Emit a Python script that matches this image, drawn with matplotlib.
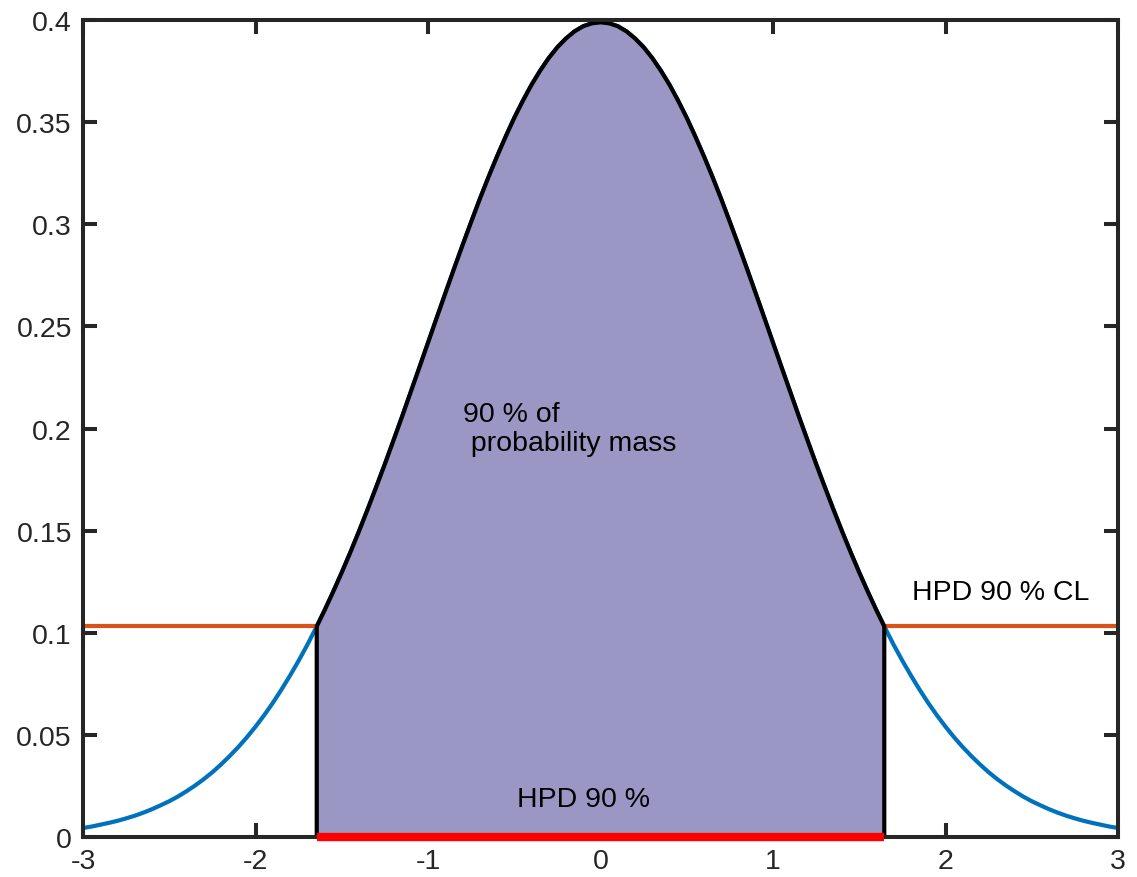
import matplotlib
matplotlib.use("Agg")
import matplotlib.pyplot as plt

plt.rcParams["font.family"] = ["Liberation Sans", "DejaVu Sans"]
plt.rcParams["axes.unicode_minus"] = False

# Density of the posterior sampled along x
x_vals = [-3.00, -2.95, -2.90, -2.85, -2.80, -2.75, -2.70, -2.65, -2.60, -2.55,
          -2.50, -2.45, -2.40, -2.35, -2.30, -2.25, -2.20, -2.15, -2.10, -2.05,
          -2.00, -1.95, -1.90, -1.85, -1.80, -1.75, -1.70, -1.65, -1.645, -1.60,
          -1.55, -1.50, -1.45, -1.40, -1.35, -1.30, -1.25, -1.20, -1.15, -1.10,
          -1.05, -1.00, -0.95, -0.90, -0.85, -0.80, -0.75, -0.70, -0.65, -0.60,
          -0.55, -0.50, -0.45, -0.40, -0.35, -0.30, -0.25, -0.20, -0.15, -0.10,
          -0.05, 0.00, 0.05, 0.10, 0.15, 0.20, 0.25, 0.30, 0.35, 0.40,
          0.45, 0.50, 0.55, 0.60, 0.65, 0.70, 0.75, 0.80, 0.85, 0.90,
          0.95, 1.00, 1.05, 1.10, 1.15, 1.20, 1.25, 1.30, 1.35, 1.40,
          1.45, 1.50, 1.55, 1.60, 1.645, 1.65, 1.70, 1.75, 1.80, 1.85,
          1.90, 1.95, 2.00, 2.05, 2.10, 2.15, 2.20, 2.25, 2.30, 2.35,
          2.40, 2.45, 2.50, 2.55, 2.60, 2.65, 2.70, 2.75, 2.80, 2.85,
          2.90, 2.95, 3.00]
density = [0.0044, 0.0051, 0.0060, 0.0069, 0.0079, 0.0091, 0.0104, 0.0119, 0.0136, 0.0155,
           0.0175, 0.0198, 0.0224, 0.0252, 0.0283, 0.0317, 0.0355, 0.0396, 0.0440, 0.0488,
           0.0540, 0.0596, 0.0656, 0.0721, 0.0790, 0.0863, 0.0940, 0.1023, 0.1031, 0.1109,
           0.1200, 0.1295, 0.1394, 0.1497, 0.1604, 0.1714, 0.1826, 0.1942, 0.2059, 0.2179,
           0.2299, 0.2420, 0.2541, 0.2661, 0.2780, 0.2897, 0.3011, 0.3123, 0.3230, 0.3332,
           0.3429, 0.3521, 0.3605, 0.3683, 0.3752, 0.3814, 0.3867, 0.3910, 0.3945, 0.3970,
           0.3984, 0.3989, 0.3984, 0.3970, 0.3945, 0.3910, 0.3867, 0.3814, 0.3752, 0.3683,
           0.3605, 0.3521, 0.3429, 0.3332, 0.3230, 0.3123, 0.3011, 0.2897, 0.2780, 0.2661,
           0.2541, 0.2420, 0.2299, 0.2179, 0.2059, 0.1942, 0.1826, 0.1714, 0.1604, 0.1497,
           0.1394, 0.1295, 0.1200, 0.1109, 0.1031, 0.1023, 0.0940, 0.0863, 0.0790, 0.0721,
           0.0656, 0.0596, 0.0540, 0.0488, 0.0440, 0.0396, 0.0355, 0.0317, 0.0283, 0.0252,
           0.0224, 0.0198, 0.0175, 0.0155, 0.0136, 0.0119, 0.0104, 0.0091, 0.0079, 0.0069,
           0.0060, 0.0051, 0.0044]

# Highest posterior density interval and its density cut level
hpd_lo = -1.645
hpd_hi = 1.645
hpd_level = 0.1031

x_ticks = [-3, -2, -1, 0, 1, 2, 3]
x_tick_labels = ["-3", "-2", "-1", "0", "1", "2", "3"]
y_ticks = [0, 0.05, 0.1, 0.15, 0.2, 0.25, 0.3, 0.35, 0.4]
y_tick_labels = ["0", "0.05", "0.1", "0.15", "0.2", "0.25", "0.3", "0.35", "0.4"]

fig = plt.figure(figsize=(11.37, 8.78), dpi=100)
ax = fig.add_axes([0.073, 0.0456, 0.9103, 0.9304])

blue = "#0072BD"
orange = "#D95319"
fill_col = "#9b97c5"

# full density curve
ax.plot(x_vals, density, color=blue, lw=3, zorder=2, solid_joinstyle="round")

# shaded HPD region bounded by the curve
inner = [(x, y) for x, y in zip(x_vals, density) if hpd_lo <= x <= hpd_hi]
px = [hpd_lo] + [p[0] for p in inner] + [hpd_hi]
py = [0.0] + [p[1] for p in inner] + [0.0]
ax.fill(px, py, facecolor=fill_col, edgecolor="none", zorder=3)
ax.plot(px, py, color="black", lw=3, zorder=4, solid_joinstyle="miter")

# density cut level outside the interval
ax.plot([x_vals[0], hpd_lo], [hpd_level, hpd_level], color=orange, lw=3, zorder=3)
ax.plot([hpd_hi, x_vals[-1]], [hpd_level, hpd_level], color=orange, lw=3, zorder=3)

# interval on the axis
ax.plot([hpd_lo, hpd_hi], [0, 0], color="#ff0000", lw=6, solid_capstyle="butt",
        zorder=6, clip_on=False)

fs = 20.5
ax.text(-0.80, 0.1998, "90 % of\n probability mass", fontsize=fs, ha="left",
        va="center", linespacing=1.15, zorder=5)
ax.text(2.32, 0.120, "HPD 90 % CL", fontsize=fs, ha="center", va="center", zorder=5)
ax.text(-0.10, 0.0186, "HPD 90 %", fontsize=fs, ha="center", va="center", zorder=5)

ax.set_xlim(-3, 3)
ax.set_ylim(0, 0.4)
ax.set_xticks(x_ticks)
ax.set_xticklabels(x_tick_labels)
ax.set_yticks(y_ticks)
ax.set_yticklabels(y_tick_labels)

spine_col = "#262626"
for s in ax.spines.values():
    s.set_linewidth(2.9)
    s.set_color(spine_col)
    s.set_zorder(5)
ax.tick_params(direction="in", length=10, width=2.9, color=spine_col,
               labelsize=fs, labelcolor="#262626", top=True, right=True, pad=8)

fig.savefig("out.png", dpi=100)
